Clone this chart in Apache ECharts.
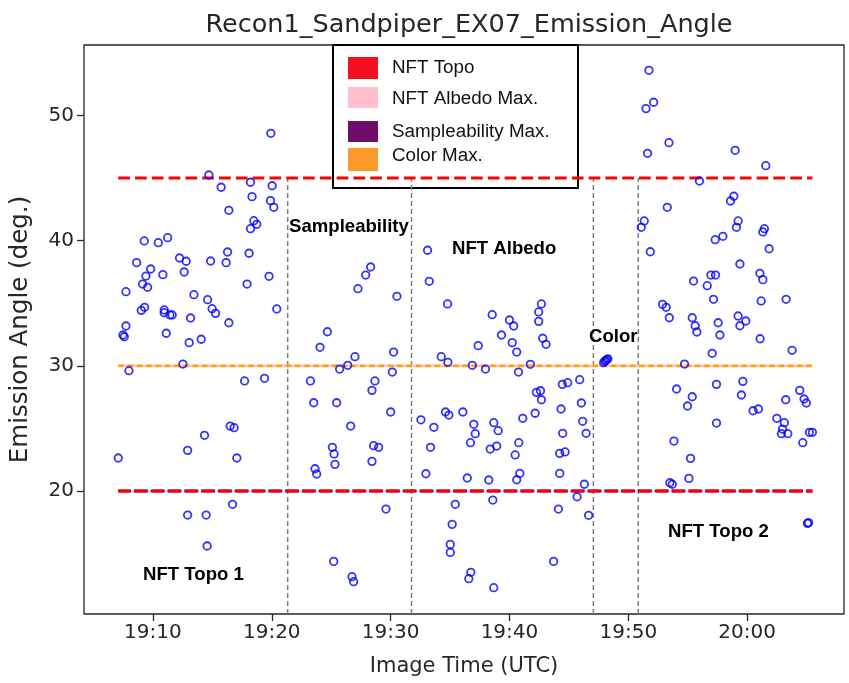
<!DOCTYPE html>
<html>
<head>
<meta charset="utf-8">
<script src="https://cdn.jsdelivr.net/npm/echarts@6/dist/echarts.min.js"></script>
<style>html,body{margin:0;padding:0;background:#fff}#chart{width:849px;height:683px}</style>
</head>
<body>
<div id="chart"></div>
<script>
// ---- data: image time in minutes after 19:00 UTC, emission angle in degrees ----
const topo1Times = [19.92,14.71,15.74,18.21,20.03,18.34,19.89,20.17,16.39,18.49,18.74,18.21,9.27,10.45,11.24,8.63,9.81,9.41,9.13,9.55,10.84,12.24,12.80,12.63,14.85,16.28,16.16,18.09,19.77,17.92,7.73,13.45,14.60,14.98,15.27,9.02,9.30,10.95,10.95,11.43,11.62,13.17,16.39,20.42,7.73,7.48,7.59,11.12,13.05,14.06,12.52,7.98,17.71,19.39,16.50,16.83,14.34,12.92,7.08,17.06,16.70,12.92,14.48,14.56];
const topo1Angles = [48.57,45.24,44.26,44.66,44.38,43.51,43.19,42.66,42.42,41.59,41.30,40.95,39.97,39.83,40.23,38.24,37.73,37.17,36.53,36.27,37.28,38.61,38.35,37.49,38.37,39.09,38.24,38.99,37.15,36.53,35.92,35.68,35.28,34.56,34.19,34.43,34.67,34.46,34.24,34.06,34.06,33.82,33.44,34.54,33.18,32.46,32.32,32.60,31.85,32.12,30.14,29.61,28.79,29.00,25.19,25.06,24.45,23.25,22.64,22.64,18.94,18.08,18.08,15.61];

const sampTimes = [28.32,27.90,27.25,30.53,24.68,24.06,27.00,26.39,25.71,30.25,30.14,23.25,28.68,28.43,23.53,25.46,30.00,26.64,25.10,25.24,25.32,28.57,28.99,28.43,23.64,23.78,29.61,25.21,26.75,26.89];
const sampAngles = [37.89,37.25,36.16,35.55,32.72,31.48,30.73,30.04,29.74,31.10,29.50,28.79,28.79,28.04,27.05,27.05,26.31,25.19,23.49,22.96,22.13,23.62,23.49,22.37,21.78,21.36,18.56,14.38,13.16,12.76];

const albedoTimes = [33.11,33.25,34.79,38.55,37.37,34.26,34.82,36.87,37.98,32.55,33.64,34.62,34.90,36.08,37.00,37.12,36.72,33.36,38.38,38.68,32.97,36.45,38.26,38.60,35.44,35.18,35.02,35.02,36.75,36.58,38.68,40.00,40.36,39.33,40.23,40.61,42.69,42.46,42.46,42.80,43.08,41.76,40.76,42.27,42.61,42.69,44.45,44.90,45.91,46.05,44.34,42.16,41.12,39.05,46.16,44.48,46.45,40.78,38.93,40.48,44.23,44.68,44.23,40.87,40.61,46.30,45.69,44.12,46.66,43.72];
const albedoAngles = [39.23,36.75,34.94,34.08,31.61,30.73,30.28,30.04,29.74,25.69,25.09,26.31,26.07,26.31,25.33,24.58,23.86,23.49,23.35,25.46,21.38,21.04,20.88,19.28,18.94,17.34,15.74,15.10,13.51,13.00,12.28,33.66,33.18,32.46,31.85,31.10,34.94,34.30,33.55,32.20,31.72,30.12,29.50,27.88,28.01,27.29,28.52,28.65,28.89,27.03,26.55,26.21,25.81,24.82,25.57,24.61,24.61,23.86,23.59,22.88,23.01,23.12,21.41,21.41,20.90,20.54,19.54,18.56,18.06,14.38];

const colorTimes = [47.92,48.02,48.10,48.20,48.28];
const colorAngles = [30.25,30.36,30.42,30.50,30.56];

const topo2Times = [51.74,52.13,51.49,53.42,51.62,58.99,61.57,55.99,58.88,58.60,53.28,51.34,51.09,59.24,59.10,61.45,61.32,57.96,57.31,51.85,61.85,59.39,55.49,56.95,57.34,56.64,61.07,61.32,57.17,61.18,63.28,52.88,53.19,53.45,55.38,55.63,55.77,57.56,57.71,59.24,59.89,59.39,61.09,63.78,57.06,54.73,54.06,55.38,54.98,57.42,59.64,59.52,64.43,63.25,64.79,64.98,60.50,60.95,57.42,62.50,63.13,62.97,62.88,63.42,65.24,65.49,64.68,53.84,55.24,55.10,53.50,53.70,65.07,65.17];
const topo2Angles = [53.60,51.05,50.54,47.82,46.97,47.21,45.98,44.76,43.54,43.16,42.66,41.57,41.06,41.57,41.06,40.95,40.69,40.34,40.07,39.11,39.35,38.13,36.77,37.25,37.25,36.40,37.39,36.88,35.31,35.18,35.31,34.91,34.67,33.84,33.84,33.20,32.70,33.44,32.46,33.98,33.58,33.20,32.16,31.24,31.00,30.14,28.15,27.53,26.79,28.52,28.76,27.67,28.04,27.29,27.35,27.03,26.41,26.55,25.43,25.81,25.46,24.95,24.58,24.58,24.69,24.69,23.86,23.99,22.61,21.01,20.66,20.54,17.42,17.48];

// segment boundaries (minutes after 19:00) and limits (deg)
const segmentBounds = [21.34, 31.76, 47.06, 50.84];
const nftTopoLimits = [20, 45];
const albedoMax = 30;
const sampleabilityMax = 20;
const colorMax = 30;

// axes
const xRange = [4.2, 68.15];
const yRange = [10.18, 55.62];
const xTickValues = [10, 20, 30, 40, 50, 60];
const yTickValues = [20, 30, 40, 50];

const legendNames = ['NFT Topo', 'NFT Albedo Max.', 'Sampleability Max.', 'Color Max.'];
const regionNames = ['Sampleability', 'NFT Albedo', 'Color', 'NFT Topo 1', 'NFT Topo 2'];

// ---- build ----
const pts = (t, a) => t.map((v, i) => [v, a[i]]);
const allTimes = [].concat(topo1Times, sampTimes, albedoTimes, colorTimes, topo2Times);
const tMin = Math.min(...allTimes), tMax = Math.max(...allTimes);

const INK = '#262626';
const markerStyle = { color: 'rgba(0,0,0,0)', borderColor: '#0000ff', borderWidth: 1.8 };

function scatter(name, t, a) {
  return { name, type: 'scatter', data: pts(t, a), symbol: 'circle', symbolSize: 7.5,
           itemStyle: markerStyle, z: 6, silent: true, animation: false };
}
function hline(y, color, dash, width, offset, z) {
  return { type: 'line', data: [[tMin, y], [tMax, y]], symbol: 'none', silent: true, animation: false, z,
           lineStyle: { color, type: dash, width, dashOffset: offset || 0 } };
}
function vline(x) {
  return { type: 'line', data: [[x, yRange[0]], [x, nftTopoLimits[1]]], symbol: 'none', silent: true,
           animation: false, z: 2, lineStyle: { color: '#808080', type: [5, 3], width: 1.5 } };
}
function fmtTime(v) {
  const h = 19 + Math.floor(v / 60);
  const m = Math.round(v - Math.floor(v / 60) * 60);
  return h + ':' + String(m).padStart(2, '0');
}

const series = [
  ...segmentBounds.map(vline),
  hline(nftTopoLimits[1], '#ff0000', [11.7, 5.1], 3, 0, 3),
  hline(sampleabilityMax, '#800080', [14, 2.8], 3, 1.15, 3),
  hline(nftTopoLimits[0], '#ff0000', [11.7, 5.1], 3, 0, 4),
  hline(albedoMax, '#ffc0cb', 'solid', 2.6, 0, 3),
  hline(colorMax, '#ffa500', [5.5, 3.8], 2.8, 0, 4),
  scatter('NFT Topo 1', topo1Times, topo1Angles),
  scatter('Sampleability', sampTimes, sampAngles),
  scatter('NFT Albedo', albedoTimes, albedoAngles),
  scatter('Color', colorTimes, colorAngles),
  scatter('NFT Topo 2', topo2Times, topo2Angles)
];

// legend box (pasted image in original) and region labels
const legendColors = ['#f5101f', '#ffc0cb', '#6f0d6c', '#fb9a2a'];
const legendRows = [[57, 22, 68], [87, 21, 99], [121, 21, 132], [148, 23, 156]];
const graphic = [
  { type: 'rect', z: 0, shape: { x: 333, y: 45, width: 245, height: 143 },
    style: { fill: '#ffffff', stroke: '#000000', lineWidth: 2 } }
];
legendNames.forEach((n, i) => {
  const r = legendRows[i];
  graphic.push({ type: 'rect', z: 1, shape: { x: 348, y: r[0], width: 30, height: r[1] }, style: { fill: legendColors[i] } });
  graphic.push({ type: 'text', z: 1, x: 392, y: r[2],
    style: { text: n, fill: '#111', font: '18.8px "Liberation Sans", Arial, sans-serif',
             textAlign: 'left', textVerticalAlign: 'middle', align: 'left', verticalAlign: 'middle' } });
});
const regionPos = [[289, 227], [452, 249], [589, 337], [143, 575], [668, 532]];
regionNames.forEach((n, i) => {
  graphic.push({ type: 'text', z: 10, x: regionPos[i][0], y: regionPos[i][1],
    style: { text: n, fill: '#000', font: 'bold 18.6px "Liberation Sans", Arial, sans-serif',
             textAlign: 'left', textVerticalAlign: 'middle', align: 'left', verticalAlign: 'middle' } });
});

const axisFont = { fontFamily: 'DejaVu Sans', fontSize: 20, color: INK };
const option = {
  animation: false,
  backgroundColor: '#ffffff',
  title: {
    text: 'Recon1_Sandpiper_EX07_Emission_Angle',
    left: 464, top: 7, textAlign: 'center',
    textStyle: { fontFamily: 'DejaVu Sans', fontSize: 25.5, fontWeight: 'normal', color: INK }
  },
  grid: { left: 83, right: 5, top: 45, bottom: 69, show: true, borderColor: INK, borderWidth: 1.3, backgroundColor: 'transparent' },
  xAxis: {
    type: 'value', min: xRange[0], max: xRange[1],
    name: 'Image Time (UTC)', nameLocation: 'middle', nameGap: 42,
    nameTextStyle: { fontFamily: 'DejaVu Sans', fontSize: 21, color: INK },
    axisLine: { show: false },
    axisTick: { show: true, customValues: xTickValues, length: 7, lineStyle: { color: INK, width: 1.3 } },
    axisLabel: { customValues: xTickValues, formatter: fmtTime, margin: 9, ...axisFont },
    splitLine: { show: false }
  },
  yAxis: {
    type: 'value', min: yRange[0], max: yRange[1],
    name: 'Emission Angle (deg.)', nameLocation: 'middle', nameGap: 51,
    nameTextStyle: { fontFamily: 'DejaVu Sans', fontSize: 24.5, color: INK },
    axisLine: { show: false },
    axisTick: { show: true, customValues: yTickValues, length: 7, lineStyle: { color: INK, width: 1.3 } },
    axisLabel: { customValues: yTickValues, margin: 10, ...axisFont },
    splitLine: { show: false }
  },
  graphic,
  series
};

const chart = echarts.init(document.getElementById('chart'));
chart.setOption(option);
</script>
</body>
</html>
